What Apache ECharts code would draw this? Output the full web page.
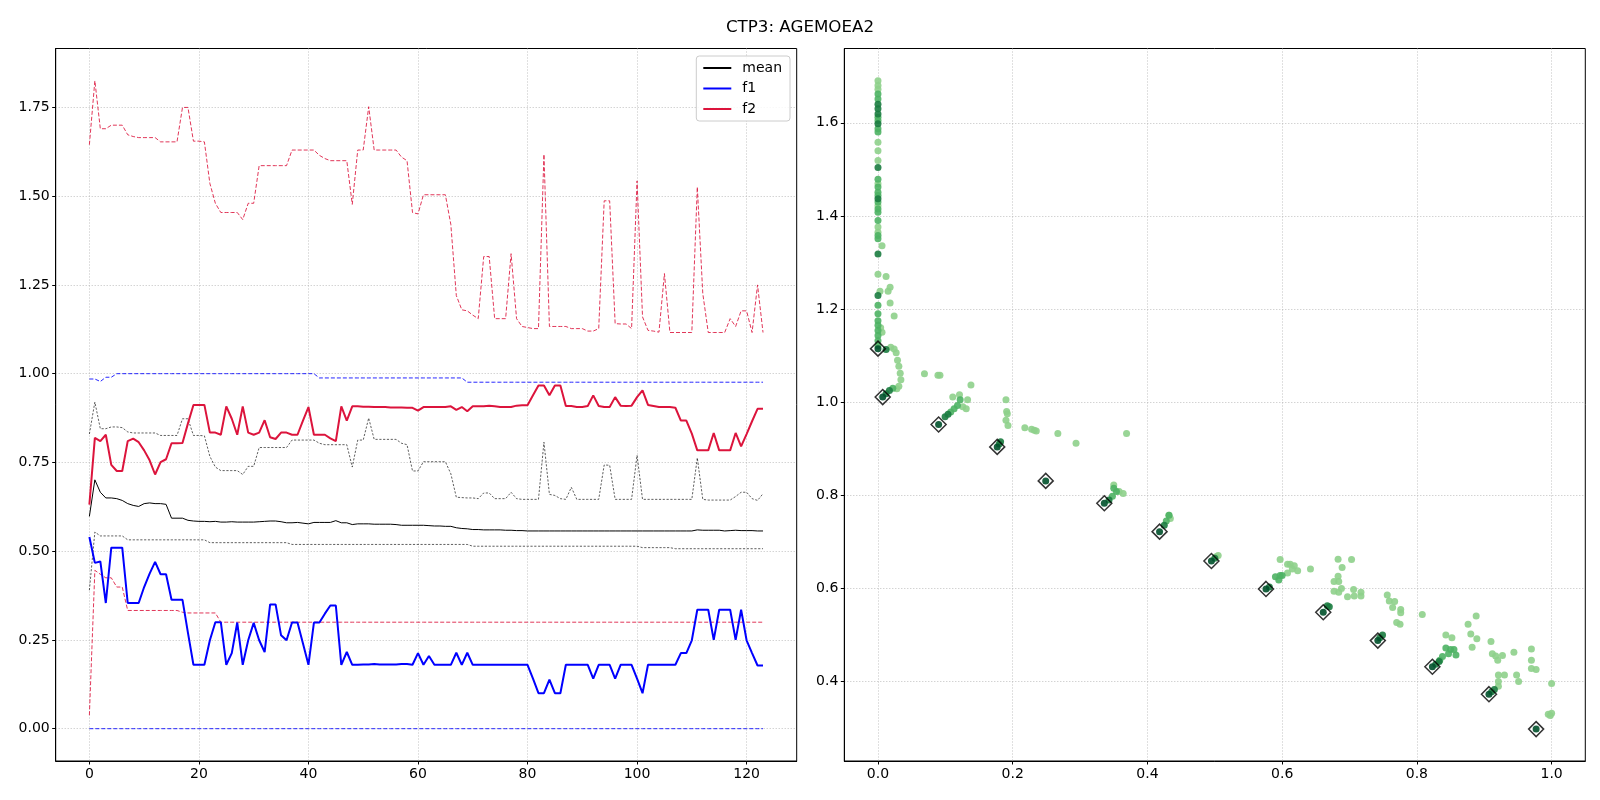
<!DOCTYPE html>
<html>
<head>
<meta charset="utf-8">
<title>CTP3: AGEMOEA2</title>
<script src="https://cdn.jsdelivr.net/npm/echarts@6.0.0/dist/echarts.min.js"></script>
<style>
  html, body { margin: 0; padding: 0; background: #fff; }
  #chart { width: 1600px; height: 800px; }
</style>
</head>
<body>
<div id="chart"></div>
<script>
// per-generation statistics (generation index = position in array)
var meanVals = [
  0.598, 0.701, 0.666, 0.65, 0.65, 0.648, 0.643, 0.634, 0.629, 0.626,
  0.634, 0.636, 0.634, 0.634, 0.632, 0.593, 0.593, 0.593, 0.587, 0.585,
  0.584, 0.584, 0.583, 0.584, 0.582, 0.582, 0.583, 0.582, 0.582, 0.582,
  0.582, 0.583, 0.584, 0.585, 0.585, 0.583, 0.58, 0.58, 0.581, 0.579,
  0.577, 0.581, 0.581, 0.581, 0.581, 0.586, 0.58, 0.58, 0.575, 0.577,
  0.577, 0.577, 0.576, 0.576, 0.576, 0.576, 0.575, 0.573, 0.573, 0.573,
  0.573, 0.573, 0.572, 0.571, 0.571, 0.57, 0.57, 0.566, 0.564, 0.563,
  0.561, 0.561, 0.56, 0.56, 0.56, 0.56, 0.559, 0.559, 0.558, 0.558,
  0.557, 0.557, 0.557, 0.557, 0.557, 0.557, 0.557, 0.557, 0.557, 0.557,
  0.557, 0.557, 0.557, 0.557, 0.557, 0.557, 0.557, 0.557, 0.557, 0.557,
  0.557, 0.557, 0.557, 0.557, 0.557, 0.557, 0.557, 0.557, 0.557, 0.557,
  0.557, 0.56, 0.559, 0.559, 0.559, 0.559, 0.557, 0.558, 0.559, 0.558,
  0.558, 0.558, 0.557, 0.557
];
var meanMax = [
  0.83, 0.92, 0.845, 0.845, 0.85, 0.85, 0.848, 0.836, 0.833, 0.833,
  0.833, 0.833, 0.833, 0.826, 0.826, 0.826, 0.826, 0.873, 0.873, 0.826,
  0.826, 0.825, 0.767, 0.737, 0.727, 0.727, 0.727, 0.727, 0.716, 0.739,
  0.739, 0.792, 0.792, 0.792, 0.792, 0.792, 0.792, 0.813, 0.813, 0.813,
  0.813, 0.813, 0.804, 0.8, 0.8, 0.8, 0.8, 0.8, 0.737, 0.813,
  0.813, 0.875, 0.815, 0.815, 0.815, 0.815, 0.815, 0.804, 0.8, 0.726,
  0.726, 0.752, 0.752, 0.752, 0.752, 0.752, 0.718, 0.652, 0.651, 0.65,
  0.65, 0.648, 0.664, 0.664, 0.648, 0.648, 0.648, 0.666, 0.648, 0.646,
  0.646, 0.646, 0.646, 0.807, 0.66, 0.657, 0.648, 0.646, 0.68, 0.646,
  0.646, 0.646, 0.646, 0.646, 0.743, 0.742, 0.646, 0.646, 0.646, 0.646,
  0.77, 0.646, 0.646, 0.646, 0.646, 0.646, 0.646, 0.646, 0.646, 0.646,
  0.646, 0.763, 0.646, 0.644, 0.644, 0.644, 0.644, 0.644, 0.654, 0.666,
  0.666, 0.648, 0.643, 0.662
];
var meanMin = [
  0.39, 0.554, 0.543, 0.543, 0.543, 0.543, 0.543, 0.532, 0.532, 0.532,
  0.532, 0.532, 0.532, 0.532, 0.532, 0.532, 0.532, 0.532, 0.532, 0.532,
  0.532, 0.532, 0.524, 0.524, 0.524, 0.524, 0.524, 0.524, 0.524, 0.524,
  0.524, 0.524, 0.524, 0.524, 0.524, 0.524, 0.524, 0.519, 0.519, 0.519,
  0.519, 0.519, 0.519, 0.519, 0.519, 0.519, 0.519, 0.519, 0.519, 0.519,
  0.519, 0.519, 0.519, 0.519, 0.519, 0.519, 0.519, 0.519, 0.519, 0.519,
  0.519, 0.519, 0.519, 0.519, 0.519, 0.519, 0.519, 0.519, 0.519, 0.519,
  0.514, 0.514, 0.514, 0.514, 0.514, 0.514, 0.514, 0.514, 0.514, 0.514,
  0.514, 0.514, 0.514, 0.514, 0.514, 0.514, 0.514, 0.514, 0.514, 0.514,
  0.514, 0.514, 0.514, 0.514, 0.514, 0.514, 0.514, 0.514, 0.514, 0.514,
  0.514, 0.51, 0.51, 0.51, 0.51, 0.51, 0.51, 0.507, 0.507, 0.507,
  0.507, 0.507, 0.507, 0.507, 0.507, 0.507, 0.507, 0.507, 0.507, 0.507,
  0.507, 0.507, 0.507, 0.507
];
var f1Vals = [
  0.54, 0.467, 0.471, 0.354, 0.51, 0.51, 0.51, 0.354, 0.354, 0.354,
  0.399, 0.437, 0.47, 0.435, 0.435, 0.363, 0.363, 0.363, 0.27, 0.18,
  0.18, 0.18, 0.249, 0.3, 0.3, 0.18, 0.213, 0.299, 0.18, 0.249,
  0.298, 0.249, 0.216, 0.35, 0.35, 0.263, 0.249, 0.299, 0.299, 0.24,
  0.18, 0.299, 0.299, 0.324, 0.347, 0.347, 0.18, 0.216, 0.18, 0.18,
  0.181, 0.181, 0.182, 0.181, 0.181, 0.181, 0.181, 0.182, 0.182, 0.18,
  0.213, 0.18, 0.205, 0.18, 0.18, 0.18, 0.18, 0.214, 0.18, 0.214,
  0.18, 0.18, 0.18, 0.18, 0.18, 0.18, 0.18, 0.18, 0.18, 0.18,
  0.18, 0.141, 0.1, 0.1, 0.138, 0.1, 0.1, 0.18, 0.18, 0.18,
  0.18, 0.18, 0.141, 0.18, 0.18, 0.18, 0.141, 0.18, 0.18, 0.18,
  0.141, 0.1, 0.18, 0.18, 0.18, 0.18, 0.18, 0.18, 0.213, 0.213,
  0.249, 0.335, 0.335, 0.335, 0.25, 0.335, 0.335, 0.335, 0.25, 0.335,
  0.249, 0.213, 0.178, 0.178
];
var f1Max = [
  0.985, 0.985, 0.978, 0.99, 0.99, 1.0, 1.0, 1.0, 1.0, 1.0,
  1.0, 1.0, 1.0, 1.0, 1.0, 1.0, 1.0, 1.0, 1.0, 1.0,
  1.0, 1.0, 1.0, 1.0, 1.0, 1.0, 1.0, 1.0, 1.0, 1.0,
  1.0, 1.0, 1.0, 1.0, 1.0, 1.0, 1.0, 1.0, 1.0, 1.0,
  1.0, 1.0, 0.988, 0.988, 0.988, 0.988, 0.988, 0.988, 0.988, 0.988,
  0.988, 0.988, 0.988, 0.988, 0.988, 0.988, 0.988, 0.988, 0.988, 0.988,
  0.988, 0.988, 0.988, 0.988, 0.988, 0.988, 0.988, 0.988, 0.988, 0.976,
  0.976, 0.976, 0.976, 0.976, 0.976, 0.976, 0.976, 0.976, 0.976, 0.976,
  0.976, 0.976, 0.976, 0.976, 0.976, 0.976, 0.976, 0.976, 0.976, 0.976,
  0.976, 0.976, 0.976, 0.976, 0.976, 0.976, 0.976, 0.976, 0.976, 0.976,
  0.976, 0.976, 0.976, 0.976, 0.976, 0.976, 0.976, 0.976, 0.976, 0.976,
  0.976, 0.976, 0.976, 0.976, 0.976, 0.976, 0.976, 0.976, 0.976, 0.976,
  0.976, 0.976, 0.976, 0.976
];
var f1Min = [
  0, 0, 0, 0, 0, 0, 0, 0, 0, 0,
  0, 0, 0, 0, 0, 0, 0, 0, 0, 0,
  0, 0, 0, 0, 0, 0, 0, 0, 0, 0,
  0, 0, 0, 0, 0, 0, 0, 0, 0, 0,
  0, 0, 0, 0, 0, 0, 0, 0, 0, 0,
  0, 0, 0, 0, 0, 0, 0, 0, 0, 0,
  0, 0, 0, 0, 0, 0, 0, 0, 0, 0,
  0, 0, 0, 0, 0, 0, 0, 0, 0, 0,
  0, 0, 0, 0, 0, 0, 0, 0, 0, 0,
  0, 0, 0, 0, 0, 0, 0, 0, 0, 0,
  0, 0, 0, 0, 0, 0, 0, 0, 0, 0,
  0, 0, 0, 0, 0, 0, 0, 0, 0, 0,
  0, 0, 0, 0
];
var f2Vals = [
  0.631, 0.819, 0.81, 0.828, 0.743, 0.726, 0.726, 0.81, 0.817, 0.807,
  0.784, 0.756, 0.716, 0.751, 0.759, 0.804, 0.804, 0.805, 0.86, 0.912,
  0.912, 0.912, 0.834, 0.834, 0.828, 0.908, 0.873, 0.828, 0.908, 0.834,
  0.828, 0.834, 0.869, 0.821, 0.816, 0.834, 0.834, 0.828, 0.828, 0.868,
  0.906, 0.828, 0.828, 0.828, 0.818, 0.81, 0.908, 0.868, 0.908, 0.908,
  0.907, 0.907, 0.906, 0.906, 0.906, 0.905, 0.905, 0.905, 0.904, 0.904,
  0.896, 0.906, 0.906, 0.906, 0.906, 0.906, 0.908, 0.898, 0.906, 0.894,
  0.908, 0.908, 0.908, 0.91, 0.908, 0.906, 0.906, 0.906, 0.91, 0.911,
  0.911, 0.939, 0.967, 0.967, 0.939, 0.967, 0.967, 0.909, 0.909, 0.906,
  0.906, 0.909, 0.939, 0.909, 0.906, 0.906, 0.934, 0.91, 0.909, 0.91,
  0.934, 0.953, 0.912, 0.909, 0.906, 0.906, 0.906, 0.904, 0.868, 0.868,
  0.831, 0.784, 0.784, 0.784, 0.833, 0.784, 0.784, 0.784, 0.833, 0.795,
  0.83, 0.866, 0.901, 0.901
];
var f2Max = [
  1.645, 1.825, 1.69, 1.69, 1.70, 1.70, 1.70, 1.673, 1.668, 1.665,
  1.665, 1.665, 1.665, 1.653, 1.653, 1.653, 1.653, 1.75, 1.75, 1.655,
  1.655, 1.653, 1.536, 1.48, 1.454, 1.454, 1.454, 1.454, 1.434, 1.48,
  1.48, 1.586, 1.586, 1.586, 1.586, 1.586, 1.586, 1.63, 1.63, 1.63,
  1.63, 1.63, 1.615, 1.606, 1.60, 1.60, 1.60, 1.60, 1.477, 1.63,
  1.63, 1.752, 1.63, 1.63, 1.63, 1.63, 1.63, 1.61, 1.60, 1.454,
  1.45, 1.504, 1.504, 1.504, 1.504, 1.504, 1.42, 1.22, 1.18, 1.177,
  1.165, 1.155, 1.33, 1.33, 1.155, 1.155, 1.155, 1.338, 1.155, 1.133,
  1.13, 1.127, 1.127, 1.618, 1.133, 1.133, 1.133, 1.133, 1.127, 1.127,
  1.127, 1.12, 1.12, 1.127, 1.487, 1.487, 1.141, 1.14, 1.14, 1.127,
  1.543, 1.16, 1.122, 1.12, 1.117, 1.282, 1.116, 1.116, 1.116, 1.116,
  1.116, 1.526, 1.226, 1.116, 1.116, 1.116, 1.116, 1.155, 1.133, 1.177,
  1.177, 1.116, 1.25, 1.116
];
var f2Min = [
  0.038, 0.446, 0.435, 0.425, 0.425, 0.399, 0.399, 0.333, 0.333, 0.333,
  0.333, 0.333, 0.333, 0.333, 0.333, 0.333, 0.333, 0.328, 0.326, 0.326,
  0.326, 0.326, 0.326, 0.326, 0.3, 0.3, 0.3, 0.3, 0.3, 0.3,
  0.3, 0.3, 0.3, 0.3, 0.3, 0.3, 0.3, 0.3, 0.3, 0.3,
  0.3, 0.3, 0.3, 0.3, 0.3, 0.3, 0.3, 0.3, 0.3, 0.3,
  0.3, 0.3, 0.3, 0.3, 0.3, 0.3, 0.3, 0.3, 0.3, 0.3,
  0.3, 0.3, 0.3, 0.3, 0.3, 0.3, 0.3, 0.3, 0.3, 0.3,
  0.3, 0.3, 0.3, 0.3, 0.3, 0.3, 0.3, 0.3, 0.3, 0.3,
  0.3, 0.3, 0.3, 0.3, 0.3, 0.3, 0.3, 0.3, 0.3, 0.3,
  0.3, 0.3, 0.3, 0.3, 0.3, 0.3, 0.3, 0.3, 0.3, 0.3,
  0.3, 0.3, 0.3, 0.3, 0.3, 0.3, 0.3, 0.3, 0.3, 0.3,
  0.3, 0.3, 0.3, 0.3, 0.3, 0.3, 0.3, 0.3, 0.3, 0.3,
  0.3, 0.3, 0.3, 0.3
];

// objective space points (f1, f2), grouped by shade (older = lighter)
var lightPts = [
  [0, 1.690], [0, 1.680], [0, 1.672], [0, 1.558], [0, 1.540], [0, 1.519], [0, 1.469],
  [0, 1.422], [0, 1.376], [0, 1.365], [0.006, 1.336], [0, 1.275],
  [0.012, 1.270], [0.018, 1.247], [0.015, 1.238], [0.003, 1.238], [0.018, 1.213], [0.024, 1.185],
  [0.004, 1.16], [0.006, 1.15],
  [0.019, 1.118], [0.024, 1.114], [0.027, 1.106], [0.029, 1.09], [0.031, 1.077], [0.033, 1.062],
  [0.034, 1.048], [0.031, 1.034], [0.028, 1.029],
  [0.069, 1.061], [0.089, 1.058], [0.092, 1.058], [0.138, 1.037],
  [0.121, 1.016], [0.126, 0.99], [0.131, 0.986], [0.133, 1.005], [0.111, 1.011],
  [0.19, 1.005], [0.191, 0.98], [0.192, 0.975], [0.19, 0.961], [0.193, 0.95],
  [0.218, 0.945], [0.228, 0.942], [0.232, 0.94], [0.235, 0.938], [0.267, 0.933], [0.294, 0.912],
  [0.369, 0.933], [0.35, 0.822], [0.364, 0.804], [0.358, 0.808],
  [0.432, 0.757], [0.434, 0.75], [0.505, 0.671], [0.502, 0.668],
  [0.597, 0.662], [0.608, 0.652], [0.612, 0.652], [0.618, 0.649], [0.623, 0.638], [0.615, 0.642],
  [0.642, 0.642], [0.608, 0.633],
  [0.683, 0.663], [0.703, 0.662], [0.689, 0.645], [0.683, 0.626], [0.677, 0.615], [0.684, 0.615],
  [0.677, 0.594], [0.684, 0.592], [0.688, 0.6], [0.697, 0.582], [0.707, 0.584], [0.706, 0.598],
  [0.717, 0.592], [0.717, 0.584],
  [0.756, 0.586], [0.759, 0.573], [0.767, 0.572], [0.764, 0.559], [0.776, 0.555], [0.776, 0.548],
  [0.77, 0.527], [0.775, 0.523], [0.808, 0.544],
  [0.843, 0.5], [0.852, 0.494], [0.876, 0.523], [0.888, 0.541], [0.88, 0.502], [0.889, 0.492],
  [0.882, 0.474], [0.91, 0.486], [0.912, 0.46], [0.917, 0.455], [0.92, 0.446], [0.927, 0.456],
  [0.944, 0.463], [0.97, 0.47], [0.97, 0.446], [0.97, 0.428], [0.977, 0.426],
  [0.921, 0.414], [0.93, 0.414], [0.921, 0.4], [0.921, 0.39], [0.948, 0.414], [0.951, 0.4],
  [1.0, 0.396], [0.995, 0.33], [0.998, 0.327], [1.0, 0.332]
];
var midPts = [
  [0, 1.662], [0, 1.651], [0, 1.612], [0, 1.605], [0, 1.587], [0, 1.580], [0, 1.479],
  [0, 1.462], [0, 1.451], [0, 1.444], [0, 1.430], [0, 1.415], [0, 1.408], [0, 1.390],
  [0, 1.358], [0, 1.351], [0, 1.208], [0, 1.190], [0, 1.175], [0, 1.165], [0, 1.154],
  [0, 1.143], [0, 1.132], [0, 1.121],
  [0.022, 1.03], [0.108, 0.979], [0.113, 0.986], [0.118, 0.993], [0.122, 1.005],
  [0.348, 0.798], [0.354, 0.808], [0.35, 0.815], [0.428, 0.745], [0.432, 0.757],
  [0.59, 0.625], [0.595, 0.618], [0.6, 0.628], [0.597, 0.628],
  [0.838, 0.454], [0.843, 0.472], [0.85, 0.469], [0.855, 0.469], [0.858, 0.457],
  [0.847, 0.46], [0.834, 0.446]
];
var darkPts = [
  [0, 1.640], [0, 1.630], [0, 1.619], [0, 1.598], [0, 1.504], [0, 1.437], [0, 1.318], [0, 1.229],
  [0.012, 1.113], [0.017, 1.025], [0.012, 1.018],
  [0.0996, 0.969], [0.104, 0.974], [0.182, 0.915], [0.18, 0.91],
  [0.343, 0.79], [0.425, 0.736], [0.5, 0.665], [0.581, 0.603], [0.667, 0.563], [0.67, 0.561],
  [0.749, 0.5], [0.745, 0.494], [0.833, 0.443], [0.828, 0.437], [0.915, 0.383], [0.911, 0.378]
];
var frontPts = [
  [0.0, 1.115], [0.007, 1.011], [0.090, 0.952], [0.177, 0.904], [0.249, 0.831],
  [0.336, 0.783], [0.418, 0.722], [0.495, 0.659], [0.576, 0.599], [0.661, 0.549],
  [0.742, 0.488], [0.823, 0.432], [0.907, 0.373], [0.977, 0.298]
];

var genTicks = [0, 20, 40, 60, 80, 100, 120];
var statTicks = [0, 0.25, 0.5, 0.75, 1.0, 1.25, 1.5, 1.75];
var f1Ticks = [0, 0.2, 0.4, 0.6, 0.8, 1.0];
var f2Ticks = [0.4, 0.6, 0.8, 1.0, 1.2, 1.4, 1.6];

var FONT = 'DejaVu Sans';

function byGen(arr) {
  return arr.map(function (v, i) { return [i, v]; });
}

function valAxis(grid, min, max, ticks, digits) {
  return {
    type: 'value',
    gridIndex: grid,
    min: min,
    max: max,
    axisLine: { show: true, onZero: false, lineStyle: { color: '#000', width: 1 } },
    axisTick: { show: true, length: 3.5, customValues: ticks, lineStyle: { color: '#000', width: 1 } },
    axisLabel: {
      customValues: ticks,
      margin: 6,
      color: '#000',
      fontFamily: FONT,
      fontSize: 14,
      formatter: function (v) { return v.toFixed(digits); }
    },
    splitLine: { show: true, lineStyle: { color: '#b0b0b0', width: 0.8, type: [1, 2] } }
  };
}

function statLine(name, vals, color, width, dash, opacity) {
  return {
    name: name,
    type: 'line',
    xAxisIndex: 0,
    yAxisIndex: 0,
    data: byGen(vals),
    symbol: 'none',
    silent: true,
    lineStyle: { color: color, width: width, type: dash || 'solid', opacity: opacity || 1 },
    itemStyle: { color: color }
  };
}

function dots(name, pts, color, z) {
  return {
    name: name,
    type: 'scatter',
    xAxisIndex: 1,
    yAxisIndex: 1,
    data: pts,
    symbol: 'circle',
    symbolSize: 7,
    z: z,
    itemStyle: { color: color, opacity: 0.9 }
  };
}

var chart = echarts.init(document.getElementById('chart'));

var option = {
  animation: false,
  backgroundColor: '#fff',
  title: {
    text: 'CTP3: AGEMOEA2',
    left: 'center',
    top: 14,
    textStyle: { fontFamily: FONT, fontSize: 16.7, fontWeight: 'normal', color: '#000' }
  },
  legend: {
    data: ['mean', 'f1', 'f2'],
    orient: 'vertical',
    right: 810,
    top: 56,
    padding: [5, 8, 5, 6],
    itemWidth: 28,
    itemHeight: 14,
    itemGap: 6.5,
    itemStyle: { opacity: 0 },
    backgroundColor: 'rgba(255,255,255,0.85)',
    borderColor: '#cccccc',
    borderWidth: 1,
    borderRadius: 3,
    textStyle: { fontFamily: FONT, fontSize: 14, color: '#000', padding: [0, 0, 0, 6] }
  },
  grid: [
    { left: 55.7, right: 803.3, top: 48.5, bottom: 39, show: true, borderColor: '#000', borderWidth: 1 },
    { left: 844.3, right: 14.7, top: 48.5, bottom: 39, show: true, borderColor: '#000', borderWidth: 1 }
  ],
  xAxis: [
    valAxis(0, -6.15, 129.15, genTicks, 0),
    valAxis(1, -0.05, 1.05, f1Ticks, 1)
  ],
  yAxis: [
    valAxis(0, -0.091, 1.916, statTicks, 2),
    valAxis(1, 0.2295, 1.7595, f2Ticks, 1)
  ],
  series: [
    statLine('mean max', meanMax, '#000', 0.7, [2.2, 1.6], 0.9),
    statLine('mean min', meanMin, '#000', 0.7, [2.2, 1.6], 0.9),
    statLine('f1 max', f1Max, '#0000ff', 1, [4, 2], 0.85),
    statLine('f1 min', f1Min, '#0000ff', 1, [4, 2], 0.85),
    statLine('f2 max', f2Max, '#dc143c', 1, [4, 2], 0.85),
    statLine('f2 min', f2Min, '#dc143c', 1, [4, 2], 0.85),
    statLine('mean', meanVals, '#000', 1),
    statLine('f1', f1Vals, '#0000ff', 2),
    statLine('f2', f2Vals, '#dc143c', 2),
    dots('older', lightPts, '#8ed08b', 2),
    dots('middle', midPts, '#4eb264', 3),
    dots('recent', darkPts, '#1b7c40', 4),
    dots('last', frontPts, '#00512b', 5),
    {
      name: 'front',
      type: 'scatter',
      xAxisIndex: 1,
      yAxisIndex: 1,
      data: frontPts,
      symbol: 'diamond',
      symbolSize: 15,
      z: 6,
      itemStyle: { color: 'rgba(0,0,0,0)', borderColor: '#000', borderWidth: 1.5 }
    }
  ]
};

option && chart.setOption(option);
</script>
</body>
</html>
